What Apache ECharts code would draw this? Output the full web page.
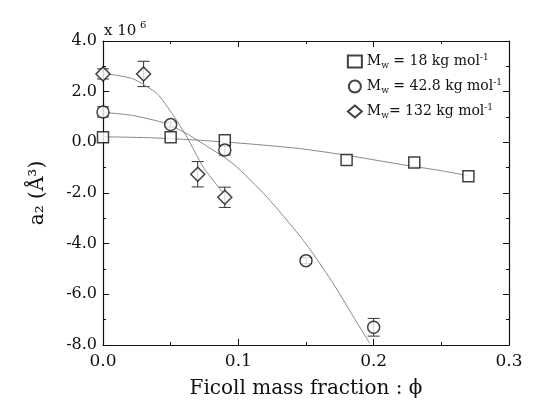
<!DOCTYPE html>
<html>
<head>
<meta charset="UTF-8">
<script src="https://cdn.jsdelivr.net/npm/echarts@6/dist/echarts.min.js"></script>
</head>
<body style="margin:0;background:#fff">
<div id="main" style="width:535px;height:410px;"></div>
<script>
// values in units of 1e6 Å^3
var sqPts = [[0, 0.2], [0.05, 0.2], [0.09, 0.08], [0.18, -0.7], [0.23, -0.8], [0.27, -1.34]];
var ciPts = [[0, 1.2], [0.05, 0.7], [0.09, -0.3], [0.15, -4.67], [0.2, -7.3]];
var diPts = [[0, 2.7], [0.03, 2.7], [0.07, -1.26], [0.09, -2.17]];
var ciErr = [0.2, 0.1, 0.2, 0.12, 0.35];
var diErr = [0.2, 0.5, 0.5, 0.4];
var sqFit = [[0, 0.22], [0.036, 0.18], [0.072, 0.08], [0.11, -0.07], [0.146, -0.25], [0.18, -0.51], [0.22, -0.87], [0.25, -1.12], [0.27, -1.32]];
var ciFit = [[0, 1.19], [0.022, 1.06], [0.047, 0.74], [0.062, 0.34], [0.072, 0.01], [0.096, -0.84], [0.121, -2.15], [0.146, -3.73], [0.155, -4.38], [0.17, -5.56], [0.185, -6.88], [0.197, -7.93]];
var diFit = [[0, 2.73], [0.022, 2.51], [0.04, 1.92], [0.052, 1.06], [0.062, 0.21], [0.074, -0.97], [0.089, -2.02]];
var legendNames = ['M_w = 18 kg mol^-1', 'M_w = 42.8 kg mol^-1', 'M_w= 132 kg mol^-1'];

var chart = echarts.init(document.getElementById('main'));
var font = 'DejaVu Serif';
function errSeries(pts, err) {
    return {
        type: 'custom', silent: true, z: 1,
        data: pts.map(function (p, i) { return [p[0], p[1] - err[i], p[1] + err[i]]; }),
        renderItem: function (params, api) {
            var lo = api.coord([api.value(0), api.value(1)]);
            var hi = api.coord([api.value(0), api.value(2)]);
            var w = 6;
            var st = { stroke: '#333', lineWidth: 1 };
            return { type: 'group', children: [
                { type: 'line', shape: { x1: lo[0], y1: lo[1], x2: hi[0], y2: hi[1] }, style: st },
                { type: 'line', shape: { x1: lo[0] - w, y1: lo[1], x2: lo[0] + w, y2: lo[1] }, style: st },
                { type: 'line', shape: { x1: hi[0] - w, y1: hi[1], x2: hi[0] + w, y2: hi[1] }, style: st }
            ] };
        }
    };
}
function fit(d) {
    return { type: 'line', data: d, smooth: 0.2, showSymbol: false, silent: true, z: 1,
        lineStyle: { color: '#888', width: 1 } };
}
function pts(name, d, sym, size) {
    return { name: name, type: 'scatter', data: d, symbol: sym, symbolSize: size, z: 3,
        itemStyle: { color: '#fff', borderColor: '#111', borderWidth: 1.5 } };
}
var axisCommon = {
    axisLine: { onZero: false, lineStyle: { color: '#111', width: 1.2 } },
    axisTick: { inside: true, length: 6, lineStyle: { color: '#111' } },
    minorTick: { show: true, splitNumber: 2, length: 3, lineStyle: { color: '#111' } },
    splitLine: { show: false }
};
chart.setOption({
    animation: false,
    textStyle: { fontFamily: font },
    grid: { left: 103, right: 26, top: 41, bottom: 65 },
    legend: {
        right: 28, top: 48, orient: 'vertical', itemGap: 8, itemWidth: 14, itemHeight: 12,
        textStyle: { fontFamily: font, fontSize: 14, color: '#111', rich: {
            sub: { fontSize: 9, verticalAlign: 'bottom', padding: [8, 0, 0, 0], fontFamily: font },
            sup: { fontSize: 9, verticalAlign: 'top', padding: [0, 0, 8, 0], fontFamily: font }
        } },
        formatter: function (n) {
            var m = n.match(/M_w(\s?)= (.*) kg mol\^-1/);
            return 'M{sub|w}' + m[1] + '= ' + m[2] + ' kg mol{sup|-1}';
        },
        data: legendNames
    },
    graphic: [{ type: 'text', left: 104, top: 24, style: { text: 'x 10', font: '15px DejaVu Serif', fill: '#111' } },
              { type: 'text', left: 140, top: 20, style: { text: '6', font: '10px DejaVu Serif', fill: '#111' } }],
    xAxis: [Object.assign({ type: 'value', min: 0, max: 0.3, interval: 0.1,
        name: 'Ficoll mass fraction : ϕ', nameLocation: 'middle', nameGap: 34,
        nameTextStyle: { fontSize: 20, color: '#111', fontFamily: font },
        axisLabel: { fontSize: 17, color: '#111', margin: 8, formatter: function (v) { return v.toFixed(1); } } }, axisCommon),
        Object.assign({ type: 'value', position: 'top', min: 0, max: 0.3, interval: 0.1, axisLabel: { show: false } }, axisCommon)],
    yAxis: [Object.assign({ type: 'value', min: -8, max: 4, interval: 2,
        name: 'a₂ (Å³)', nameLocation: 'middle', nameGap: 55,
        nameTextStyle: { fontSize: 20, color: '#111', fontFamily: font },
        axisLabel: { fontSize: 16, color: '#111', margin: 6, formatter: function (v) { return v.toFixed(1); } } }, axisCommon),
        Object.assign({ type: 'value', position: 'right', min: -8, max: 4, interval: 2, axisLabel: { show: false } }, axisCommon)],
    series: [
        fit(sqFit), fit(ciFit), fit(diFit),
        errSeries(ciPts, ciErr), errSeries(diPts, diErr),
        pts(legendNames[0], sqPts, 'rect', 11),
        pts(legendNames[1], ciPts, 'circle', 12),
        pts(legendNames[2], diPts, 'diamond', 14)
    ]
});
</script>
</body>
</html>
